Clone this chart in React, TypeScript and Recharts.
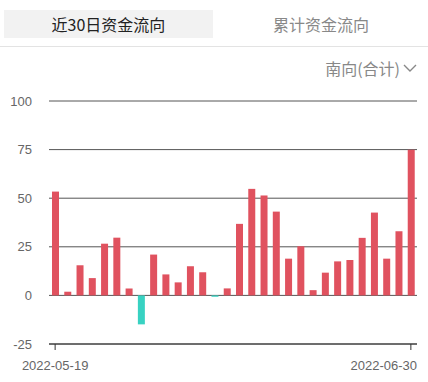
import { BarChart, Bar, XAxis, YAxis, CartesianGrid, Cell } from 'recharts';

// trading days, southbound, last 30 sessions
const dates = [
  '2022-05-19', '2022-05-20', '2022-05-23', '2022-05-24', '2022-05-25', '2022-05-26',
  '2022-05-27', '2022-05-30', '2022-05-31', '2022-06-01', '2022-06-02', '2022-06-06',
  '2022-06-07', '2022-06-08', '2022-06-09', '2022-06-10', '2022-06-13', '2022-06-14',
  '2022-06-15', '2022-06-16', '2022-06-17', '2022-06-20', '2022-06-21', '2022-06-22',
  '2022-06-23', '2022-06-24', '2022-06-27', '2022-06-28', '2022-06-29', '2022-06-30',
];
const flows = [
  53.4, 1.9, 15.5, 8.9, 26.6, 29.7, 3.6, -14.9, 21.0, 10.8,
  6.7, 15.0, 11.9, -0.7, 3.6, 36.8, 54.8, 51.4, 43.1, 18.9,
  25.3, 2.7, 11.7, 17.5, 18.2, 29.6, 42.6, 18.9, 33.0, 74.9,
];
const yTicks = [-25, 0, 25, 50, 75, 100];
const xTicks = [dates[0], dates[dates.length - 1]];

const UP = '#e0525f';
const DOWN = '#38d2c2';

const data = dates.map((d, i) => ({ date: d, value: flows[i] }));

function DateTick(props: any) {
  const { x, y, payload, index } = props;
  const last = index === xTicks.length - 1;
  return (
    <text
      x={last ? 417 : x}
      y={y + 18}
      textAnchor={last ? 'end' : 'middle'}
      fill="#666"
      fontSize={13}
      fontFamily="Liberation Sans, Arial, sans-serif"
    >
      {payload.value}
    </text>
  );
}

export default function App() {
  const cjk = '"Noto Sans CJK SC", "Noto Sans", sans-serif';
  return (
    <div style={{ position: 'absolute', left: 0, top: 0, width: 428, height: 382, background: '#fff', overflow: 'hidden' }}>
      <BarChart
        width={428}
        height={382}
        data={data}
        margin={{ top: 101, right: 11, left: 0, bottom: 0 }}
        barCategoryGap={0}
      >
        <CartesianGrid vertical={false} stroke="#555" />
        <XAxis
          dataKey="date"
          ticks={xTicks}
          interval={0}
          height={38}
          axisLine={{ stroke: '#333' }}
          tickLine={{ stroke: '#333' }}
          tick={<DateTick />}
        />
        <YAxis
          domain={[-25, 100]}
          ticks={yTicks}
          width={49}
          axisLine={false}
          tickLine={false}
          tickSize={0}
          tickMargin={17}
          tick={{ fill: '#666', fontSize: 13, fontFamily: 'Liberation Sans, Arial, sans-serif' }}
        />
        <Bar dataKey="value" barSize={7} isAnimationActive={false}>
          {data.map((d, i) => (
            <Cell key={i} fill={d.value >= 0 ? UP : DOWN} />
          ))}
        </Bar>
      </BarChart>

      {/* tabs */}
      <div style={{ position: 'absolute', left: 4, top: 10, width: 209, height: 28, background: '#f2f2f2' }} />
      <div style={{ position: 'absolute', left: 4, top: 10, width: 209, height: 28, lineHeight: '28px', textAlign: 'center', fontFamily: cjk, fontSize: 16, color: '#222' }}>
        近30日资金流向
      </div>
      <div style={{ position: 'absolute', left: 214, top: 10, width: 214, height: 28, lineHeight: '28px', textAlign: 'center', fontFamily: cjk, fontSize: 16, color: '#888' }}>
        累计资金流向
      </div>
      <div style={{ position: 'absolute', left: 0, top: 46, width: 428, height: 1, background: '#e3e3e3' }} />
      <div style={{ position: 'absolute', right: 28, top: 55, height: 26, lineHeight: '26px', fontFamily: cjk, fontSize: 16, color: '#888' }}>
        南向(合计)
      </div>
      <svg style={{ position: 'absolute', left: 402, top: 63 }} width={16} height={10}>
        <polyline points="2,2 8,8 14,2" fill="none" stroke="#888" strokeWidth={1.4} />
      </svg>
    </div>
  );
}
